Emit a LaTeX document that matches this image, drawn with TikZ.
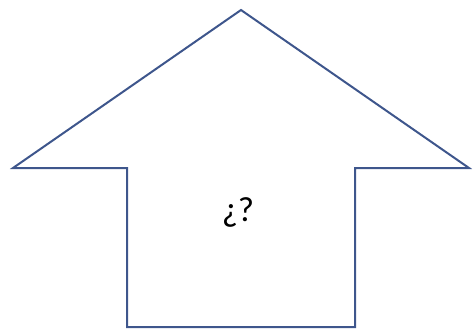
\documentclass[tikz,border=0pt]{standalone}
\usepackage{fontspec}
\setmainfont{Carlito}
\definecolor{arrowblue}{RGB}{62,86,140}
\tikzset{
  arrowline/.style={draw=arrowblue, line width=2pt, line join=miter},
  marklabel/.style={font=\fontsize{35}{40}\selectfont, text=black}
}
\begin{document}
\begin{tikzpicture}[x=1pt, y=-1pt]
  \useasboundingbox (0,0) rectangle (475,333);
  % the upward block arrow
  \draw[arrowline] (241,10) -- (469,168) -- (355,168) -- (355,327)
    -- (127,327) -- (127,168) -- (13,168) -- cycle;
  % question marks inside the shaft
  \node[marklabel] (query) at (238,212) {¿?};
\end{tikzpicture}
\end{document}
